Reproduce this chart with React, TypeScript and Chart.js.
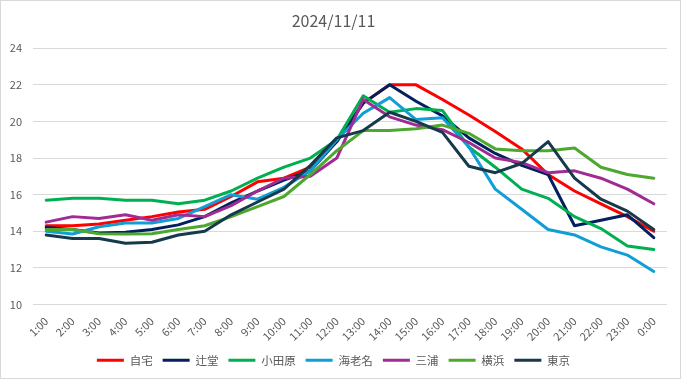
import React, { useEffect, useRef } from "react";
import { Chart, registerables } from "chart.js";

Chart.register(...registerables);

const title = "2024/11/11";
const hours = ["1:00","2:00","3:00","4:00","5:00","6:00","7:00","8:00","9:00","10:00","11:00","12:00","13:00","14:00","15:00","16:00","17:00","18:00","19:00","20:00","21:00","22:00","23:00","0:00"];
const seriesNames = ["自宅", "辻堂", "小田原", "海老名", "三浦", "横浜", "東京"];
const jitaku = [14.3,14.3,14.4,14.6,14.8,15.05,15.2,15.9,16.7,16.9,17.5,18.9,21.0,22.0,22.0,21.2,20.35,19.45,18.5,17.1,16.2,15.5,14.8,14.0];
const tsujido = [14.2,14.1,13.9,13.95,14.1,14.35,14.8,15.55,16.2,16.8,17.3,18.9,21.0,22.0,21.1,20.3,19.1,18.25,17.6,17.1,14.3,14.6,14.9,13.65];
const odawara = [15.7,15.8,15.8,15.7,15.7,15.5,15.7,16.2,16.9,17.5,18.0,19.0,21.4,20.5,20.7,20.6,18.6,17.5,16.3,15.8,14.8,14.15,13.2,13.0];
const ebina = [14.0,13.85,14.25,14.45,14.45,14.7,15.35,16.0,15.75,16.4,17.3,19.0,20.45,21.3,20.1,20.2,18.6,16.3,15.2,14.1,13.8,13.15,12.7,11.8];
const miura = [14.5,14.8,14.7,14.9,14.6,14.9,14.8,15.4,16.2,16.9,17.0,18.0,21.2,20.25,19.8,19.55,18.85,18.0,17.75,17.2,17.3,16.9,16.3,15.5];
const yokohama = [14.1,14.1,13.87,13.85,13.87,14.1,14.3,14.8,15.35,15.9,17.1,18.4,19.5,19.5,19.6,19.8,19.35,18.5,18.4,18.4,18.55,17.5,17.1,16.9];
const tokyo = [13.8,13.6,13.6,13.35,13.4,13.8,14.0,14.9,15.6,16.3,17.6,19.1,19.5,20.5,20.0,19.4,17.55,17.2,17.7,18.9,16.9,15.75,15.1,14.1];
const seriesValues = [jitaku, tsujido, odawara, ebina, miura, yokohama, tokyo];
const seriesColors = ["#FF0000", "#002060", "#00B050", "#0F9ED5", "#A02B93", "#4EA72E", "#163A4B"];
const yMin = 10;
const yMax = 24;
const yStep = 2;

const TEXT = "#595959";
const FONT = "'Noto Sans CJK JP', 'Noto Sans', sans-serif";

export default function App() {
  const ref = useRef<HTMLCanvasElement | null>(null);
  useEffect(() => {
    if (!ref.current) return;
    const n = seriesNames.length;
    const chart = new Chart(ref.current, {
      type: "line",
      data: {
        labels: hours,
        datasets: seriesNames.map((name, i) => ({
          label: name,
          data: seriesValues[i],
          borderColor: seriesColors[i],
          backgroundColor: seriesColors[i],
          borderWidth: 3,
          pointRadius: 0,
          pointHoverRadius: 0,
          tension: 0,
          fill: false,
          borderJoinStyle: "round" as const,
          borderCapStyle: "round" as const,
          order: n - i,
        })),
      },
      options: {
        responsive: false,
        animation: false,
        layout: { padding: { left: 0, right: 14, top: 0, bottom: 3 } },
        plugins: {
          title: {
            display: true,
            text: title,
            color: TEXT,
            font: { family: FONT, size: 16, weight: "normal" },
            padding: { top: 11, bottom: 18 },
          },
          legend: {
            position: "bottom",
            labels: {
              usePointStyle: true,
              pointStyle: "line",
              pointStyleWidth: 27,
              boxHeight: 12,
              padding: 10,
              color: TEXT,
              font: { family: FONT, size: 11.5 },
              sort: (a: any, b: any) => a.datasetIndex - b.datasetIndex,
            },
          },
          tooltip: { enabled: false },
        },
        scales: {
          x: {
            offset: true,
            grid: { display: false },
            border: { display: false },
            ticks: {
              color: TEXT,
              font: { family: FONT, size: 11 },
              minRotation: 45,
              maxRotation: 45,
              autoSkip: false,
              padding: 2,
            },
            afterFit: (s: any) => { s.height = 40; },
          },
          y: {
            min: yMin,
            max: yMax,
            grid: { color: "#D9D9D9", lineWidth: 1, drawTicks: false },
            border: { display: false },
            ticks: {
              stepSize: yStep,
              color: TEXT,
              font: { family: FONT, size: 11 },
              padding: 11,
            },
            afterFit: (s: any) => { s.width = 33; },
          },
        },
      },
    });
    return () => chart.destroy();
  }, []);
  return (
    <div style={{ position: "fixed", left: 0, top: 0, width: 681, height: 379, background: "#fff" }}>
      <canvas ref={ref} width={681} height={379} style={{ display: "block" }} />
      <div style={{ position: "absolute", left: 0, top: 0, width: 681, height: 379, boxSizing: "border-box", border: "1px solid #D9D9D9", pointerEvents: "none" }} />
    </div>
  );
}
